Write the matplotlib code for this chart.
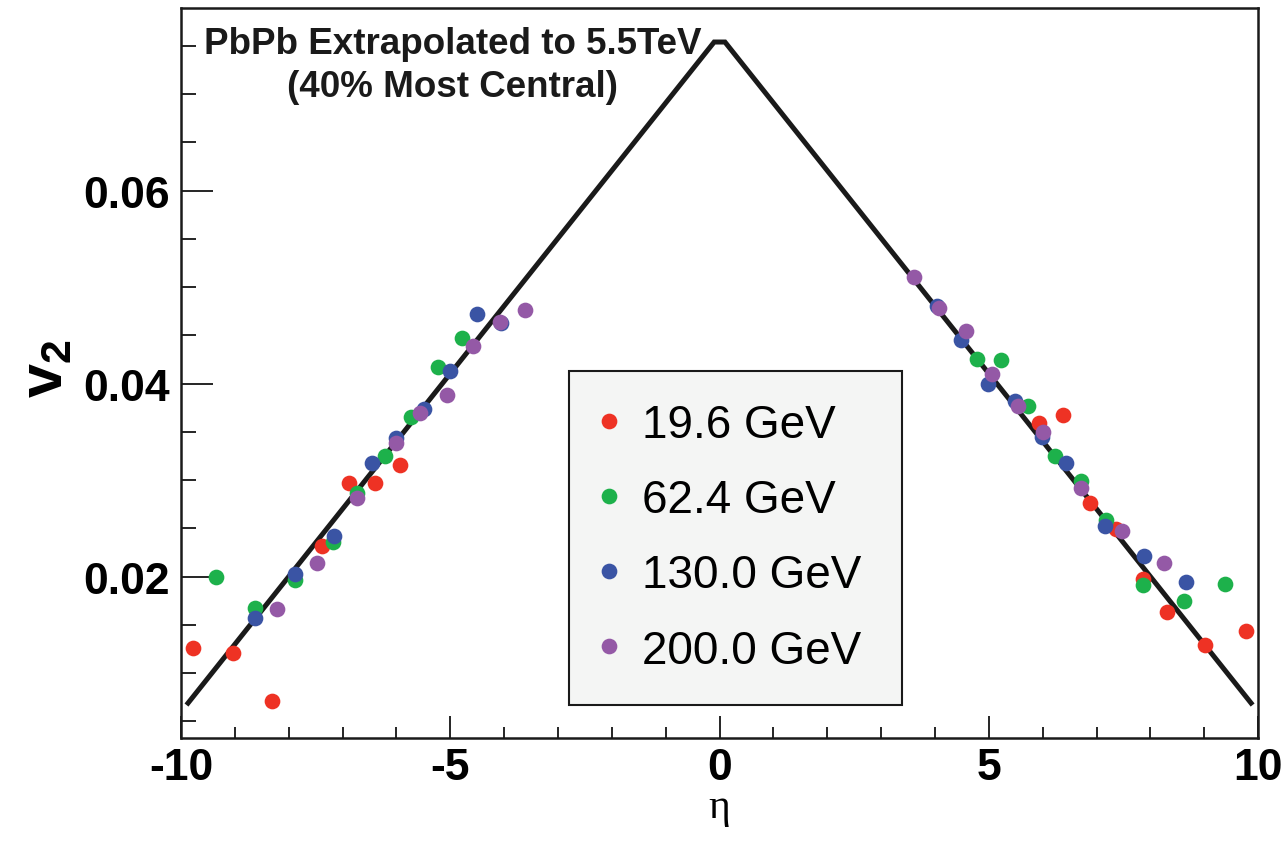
import matplotlib
matplotlib.use('Agg')
import matplotlib.pyplot as plt
from matplotlib.ticker import MultipleLocator

plt.rcParams['font.family'] = ['Liberation Sans', 'DejaVu Sans']
plt.rcParams['mathtext.fontset'] = 'custom'
plt.rcParams['mathtext.bf'] = 'Liberation Sans:bold'
plt.rcParams['mathtext.rm'] = 'Liberation Sans'
plt.rcParams['axes.unicode_minus'] = False

# extrapolated PbPb 5.5 TeV line
line_eta = [-9.87, -0.1, 0.1, 9.87]
line_v2 = [0.0069, 0.0754, 0.0754, 0.0069]

# 19.6 GeV
eta_196 = [-9.77, -9.03, -8.32, -7.39, -6.88, -6.39, -5.94,
           5.93, 6.37, 6.88, 7.37, 7.87, 8.31, 9.01, 9.77]
v2_196 = [0.0126, 0.0121, 0.0071, 0.0232, 0.0297, 0.0297, 0.0316,
          0.0359, 0.0367, 0.0276, 0.0249, 0.0198, 0.0163, 0.0129, 0.0144]

# 62.4 GeV
eta_624 = [-9.35, -8.62, -7.89, -7.18, -6.73, -6.22, -5.73, -5.23, -4.78,
           4.78, 5.22, 5.72, 6.22, 6.71, 7.17, 7.86, 8.62, 9.38]
v2_624 = [0.0200, 0.0168, 0.0197, 0.0236, 0.0287, 0.0325, 0.0365, 0.0417, 0.0447,
          0.0426, 0.0424, 0.0377, 0.0325, 0.0299, 0.0259, 0.0191, 0.0175, 0.0192]

# 130.0 GeV
eta_130 = [-8.63, -7.89, -7.16, -6.45, -6.00, -5.48, -5.00, -4.50, -4.05,
           4.03, 4.49, 4.99, 5.49, 5.99, 6.43, 7.16, 7.89, 8.67]
v2_130 = [0.0157, 0.0203, 0.0242, 0.0318, 0.0344, 0.0374, 0.0413, 0.0472, 0.0463,
          0.0480, 0.0445, 0.0400, 0.0382, 0.0345, 0.0318, 0.0253, 0.0221, 0.0194]

# 200.0 GeV
eta_200 = [-8.21, -7.47, -6.73, -6.01, -5.56, -5.06, -4.58, -4.07, -3.61,
           3.61, 4.07, 4.57, 5.06, 5.54, 6.01, 6.72, 7.47, 8.25]
v2_200 = [0.0166, 0.0214, 0.0281, 0.0338, 0.0370, 0.0388, 0.0439, 0.0464, 0.0476,
          0.0510, 0.0478, 0.0455, 0.0410, 0.0377, 0.0350, 0.0292, 0.0247, 0.0214]

series = [
    ('19.6 GeV', eta_196, v2_196, '#ee3224'),
    ('62.4 GeV', eta_624, v2_624, '#1db14b'),
    ('130.0 GeV', eta_130, v2_130, '#3a54a4'),
    ('200.0 GeV', eta_200, v2_200, '#9459a6'),
]

fig = plt.figure(figsize=(12.84, 8.45), dpi=100)
ax = fig.add_axes([0.141, 0.1251, 0.8388, 0.8643])

ax.plot(line_eta, line_v2, color='#1a1a1a', lw=3.6, zorder=2, solid_joinstyle='miter')
for label, x, y, c in series:
    ax.plot(x, y, 'o', ms=11.3, color=c, mec='none', label=label, zorder=3)

ax.set_xlim(-10, 10)
ax.set_ylim(0.00325, 0.07893)

ax.xaxis.set_major_locator(MultipleLocator(5))
ax.xaxis.set_minor_locator(MultipleLocator(1))
ax.yaxis.set_major_locator(MultipleLocator(0.02))
ax.yaxis.set_minor_locator(MultipleLocator(0.005))
ax.yaxis.set_major_formatter(plt.FuncFormatter(lambda v, p: f'{v:.2f}'))

ax.tick_params(axis='x', which='major', direction='in', length=16, width=1.2,
               labelsize=32, pad=6, top=False)
ax.tick_params(axis='x', which='minor', direction='in', length=8, width=1.2, top=False)
ax.tick_params(axis='y', which='major', direction='in', length=23, width=1.2,
               labelsize=32, pad=8, right=False)
ax.tick_params(axis='y', which='minor', direction='in', length=11, width=1.2, right=False)
for lab in ax.get_xticklabels() + ax.get_yticklabels():
    lab.set_fontweight('bold')

for s in ax.spines.values():
    s.set_linewidth(1.8)
    s.set_color('#1a1a1a')

ax.set_xlabel('η', family=['Liberation Serif', 'DejaVu Serif'], fontsize=30, labelpad=0)
ax.set_ylabel(r'$\mathbf{v}_{\mathbf{2}}$', fontsize=44)
ax.yaxis.set_label_coords(-0.098, 0.507)

ax.text(0.252, 0.975, 'PbPb Extrapolated to 5.5TeV\n(40% Most Central)',
        transform=ax.transAxes, ha='center', va='top', fontsize=26.5,
        fontweight='bold', linespacing=1.3, color='#1a1a1a')

leg = ax.legend(loc='upper left', bbox_to_anchor=(0.360, 0.055, 0.309, 0.448),
                mode='expand', borderaxespad=0, fontsize=33, numpoints=1,
                handlelength=0.35, handletextpad=0.55, borderpad=0.7,
                labelspacing=0.68, fancybox=False, framealpha=1,
                facecolor='#f4f5f4', edgecolor='#1a1a1a')
leg.get_frame().set_linewidth(1.5)

fig.savefig('out.png', dpi=100)
